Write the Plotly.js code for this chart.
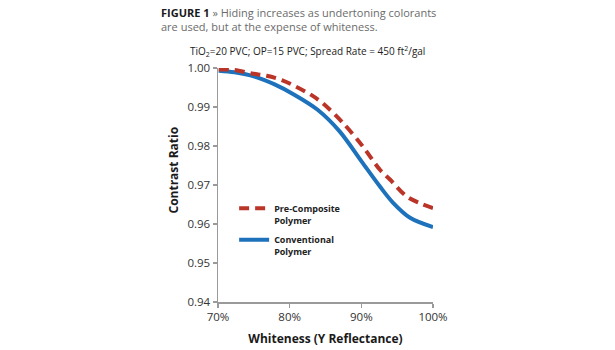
<!DOCTYPE html>
<html>
<head>
<meta charset="utf-8">
<script src="https://cdn.plot.ly/plotly-3.0.1.min.js"></script>
<style>html,body{margin:0;padding:0;background:#fff;}#chart{width:615px;height:350px;}</style>
</head>
<body>
<div id="chart"></div>
<script>
// Data (Whiteness %, Contrast Ratio)
const conventionalX = [70.1, 72.3, 75.1, 77.9, 80.7, 83.9, 87.0, 90.05, 92.6, 94.4, 96.8, 100];
const conventionalY = [0.9993, 0.9989, 0.9978, 0.9958, 0.9931, 0.9893, 0.9837, 0.9760, 0.9696, 0.9655, 0.9616, 0.9592];
const preCompositeX = [70.1, 72.3, 74.7, 76.8, 78.9, 80.9, 83.0, 84.6, 87.4, 90.2, 92.6, 94.0, 96.3, 98.1, 100];
const preCompositeY = [0.9996, 0.9995, 0.9986, 0.9980, 0.9969, 0.9952, 0.9931, 0.9910, 0.9860, 0.9799, 0.9739, 0.9714, 0.9671, 0.9654, 0.9641];
const xTickVals = [70, 80, 90, 100];
const xTickText = ['70%', '80%', '90%', '100%'];
const yTickVals = [0.94, 0.95, 0.96, 0.97, 0.98, 0.99, 1.00];
const yTickText = ['0.94', '0.95', '0.96', '0.97', '0.98', '0.99', '1.00'];

const FONT = '"Open Sans", "Noto Sans", sans-serif';
const BLUE = 'rgb(29,114,187)';
const RED = 'rgb(187,52,40)';

const traces = [
  {x: conventionalX, y: conventionalY, type: 'scatter', mode: 'lines', legendgroup: 'b', legendrank: 2,
   name: 'Conventional<br>Polymer', line: {color: BLUE, width: 4, shape: 'spline', smoothing: 0.9}},
  {x: preCompositeX, y: preCompositeY, type: 'scatter', mode: 'lines', legendgroup: 'a', legendrank: 1,
   name: 'Pre-Composite<br>Polymer', line: {color: RED, width: 4, dash: '10px,6px', shape: 'spline', smoothing: 0.9}}
];

const layout = {
  width: 615, height: 350,
  margin: {l: 218, r: 182, t: 68, b: 48, pad: 0},
  paper_bgcolor: '#fff', plot_bgcolor: '#fff',
  font: {family: FONT, color: '#333', size: 12},
  showlegend: true,
  legend: {x: 0.075, y: 0.453, xanchor: 'left', yanchor: 'top', traceorder: 'grouped',
    valign: 'top', bgcolor: 'rgba(0,0,0,0)', tracegroupgap: 5,
    font: {family: FONT, size: 9, color: '#222', weight: 700}},
  annotations: [
    {text: '<b>FIGURE 1</b> <span style="color:#6b6b6b">» Hiding increases as undertoning colorants<br>are used, but at the expense of whiteness.</span>',
     xref: 'paper', yref: 'paper', x: (159 - 218) / 215, y: 1 + (68 - 3) / 234, xanchor: 'left', yanchor: 'top',
     align: 'left', showarrow: false, font: {family: FONT, size: 11, color: '#1a1a1a'}},
    {text: 'TiO<sub>2</sub>=20 PVC; OP=15 PVC; Spread Rate = 450 ft<sup>2</sup>/gal',
     xref: 'paper', yref: 'paper', x: (307.5 - 218) / 215, y: 1 + (68 - 61) / 234, xanchor: 'center', yanchor: 'bottom',
     showarrow: false, font: {family: FONT, size: 10, color: '#222'}},
    {text: '<b>Contrast Ratio</b>', textangle: -90,
     xref: 'paper', yref: 'paper', x: (173 - 218) / 215, y: 1 - (170.5 - 68) / 234, xanchor: 'center', yanchor: 'middle',
     showarrow: false, font: {family: FONT, size: 12, color: '#1a1a1a'}}
  ],
  xaxis: {
    range: [70, 100], tickvals: xTickVals, ticktext: xTickText,
    showline: true, linecolor: '#9a9a9a', linewidth: 1.5,
    ticks: 'outside', ticklen: 4, tickcolor: '#9a9a9a', tickwidth: 1.2,
    showgrid: false, zeroline: false,
    tickfont: {family: FONT, size: 11.5, color: '#333'},
    title: {text: 'Whiteness (Y Reflectance)', standoff: 11,
      font: {family: FONT, size: 12, color: '#1a1a1a', weight: 700}}
  },
  yaxis: {
    range: [0.94, 1.0], tickvals: yTickVals, ticktext: yTickText,
    showline: true, linecolor: '#9a9a9a', linewidth: 1.5,
    ticks: 'outside', ticklen: 4, tickcolor: '#9a9a9a', tickwidth: 1.2,
    showgrid: false, zeroline: false,
    tickfont: {family: FONT, size: 11.5, color: '#333'}
  },
  xaxis2: {overlaying: 'x', side: 'top', range: [70, 100], showline: true, linecolor: '#111', linewidth: 1.5,
    showticklabels: false, ticks: '', showgrid: false, zeroline: false},
  yaxis2: {overlaying: 'y', side: 'right', range: [0.94, 1.0], showline: true, linecolor: '#111', linewidth: 1.5,
    showticklabels: false, ticks: '', showgrid: false, zeroline: false},
  xaxis3: {overlaying: 'x', side: 'bottom', range: [70, 100], tickvals: xTickVals, showline: false,
    showticklabels: false, ticks: 'inside', ticklen: 4, tickcolor: '#9a9a9a', tickwidth: 1.2, showgrid: false, zeroline: false},
  yaxis3: {overlaying: 'y', side: 'left', range: [0.94, 1.0], tickvals: yTickVals, showline: false,
    showticklabels: false, ticks: 'inside', ticklen: 4, tickcolor: '#9a9a9a', tickwidth: 1.2, showgrid: false, zeroline: false}
};

Plotly.newPlot('chart', traces, layout, {displayModeBar: false, staticPlot: true});
</script>
</body>
</html>
